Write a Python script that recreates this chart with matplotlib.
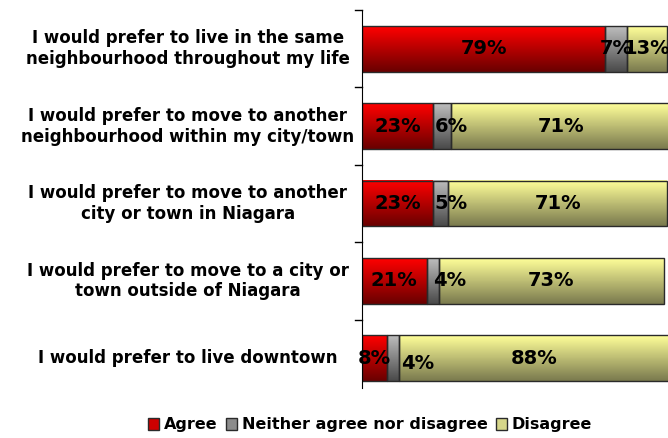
import matplotlib
matplotlib.use("Agg")
import matplotlib.pyplot as plt
import matplotlib.transforms as mtransforms
import numpy as np
from matplotlib.patches import Rectangle
from matplotlib.colors import LinearSegmentedColormap

categories = [
    "I would prefer to live in the same\nneighbourhood throughout my life",
    "I would prefer to move to another\nneighbourhood within my city/town",
    "I would prefer to move to another\ncity or town in Niagara",
    "I would prefer to move to a city or\ntown outside of Niagara",
    "I would prefer to live downtown",
]
agree = [79, 23, 23, 21, 8]
neither = [7, 6, 5, 4, 4]
disagree = [13, 71, 71, 73, 88]
series_names = ["Agree", "Neither agree nor disagree", "Disagree"]

# label nudges (pixels) for the narrow "neither" segments, as placed in the original
nudge_x = [0, 9, 10, 17, 25]
nudge_y = [0, 0, 0, 0, -5]

top_colors = ["#ff0000", "#bdbdbd", "#ffff99"]
bot_colors = ["#6a0000", "#4a4a4a", "#7a7a4e"]

W, H = 668, 438
fig = plt.figure(figsize=(W/100, H/100), dpi=100)
ax = fig.add_axes([362/W, 1-397/H, 308/W, 387/H])
n = len(categories)
bar_h = 0.59

def grad_bar(x0, w, y, h, ci):
    cmap = LinearSegmentedColormap.from_list("g", [top_colors[ci], bot_colors[ci]])
    grad = np.linspace(0, 1, 64).reshape(-1, 1)
    ax.imshow(grad, cmap=cmap, aspect="auto", extent=(x0, x0 + w, y + h/2, y - h/2),
              zorder=1, interpolation="bilinear")
    ax.add_patch(Rectangle((x0, y - h/2), w, h, fill=False, edgecolor="#2a2a2a", lw=1.0, zorder=2))

series = [agree, neither, disagree]
for i in range(n):
    left = 0
    for ci, vals in enumerate(series):
        v = vals[i]
        grad_bar(left, v, i, bar_h, ci)
        off = mtransforms.offset_copy(ax.transData, fig=fig,
                                      x=nudge_x[i] if ci == 1 else 0,
                                      y=nudge_y[i] if ci == 1 else 0, units="dots")
        ax.text(left + v/2, i, f"{v}%", ha="center", va="center", fontsize=14,
                fontweight="bold", color="black", zorder=3, clip_on=False, transform=off)
        left += v

ax.set_xlim(0, 100)
ax.set_ylim(n - 0.5, -0.5)
ax.set_yticks([])
ax.set_xticks([])

lab_tr = mtransforms.blended_transform_factory(fig.transFigure, ax.transData)
for i, c in enumerate(categories):
    ax.text(188/W, i, c, transform=lab_tr, ha="center", va="center", fontsize=12,
            fontweight="bold", linespacing=1.2, clip_on=False)

# boundary tick marks
for b in np.arange(n) - 0.5:
    ax.plot([-2.2, 0], [b, b], color="black", lw=1, clip_on=False)
for s in ["top", "right", "bottom"]:
    ax.spines[s].set_visible(False)
ax.spines["left"].set_color("black")
ax.spines["left"].set_bounds(-0.5, n - 0.62)

# legend
leg_faces = ["#cc0000", "#8c8c8c", "#d6d68a"]
handles = [Rectangle((0, 0), 1, 1, facecolor=leg_faces[ci], edgecolor="#2a2a2a", lw=1)
           for ci in range(3)]
fig.legend(handles, series_names, loc="center", bbox_to_anchor=(370/W, 1-425/H),
           ncol=3, frameon=False, prop={"weight": "bold", "size": 11.5},
           handlelength=0.7, handleheight=0.7, handletextpad=0.3, columnspacing=0.5)

fig.savefig("out.png", dpi=100)
